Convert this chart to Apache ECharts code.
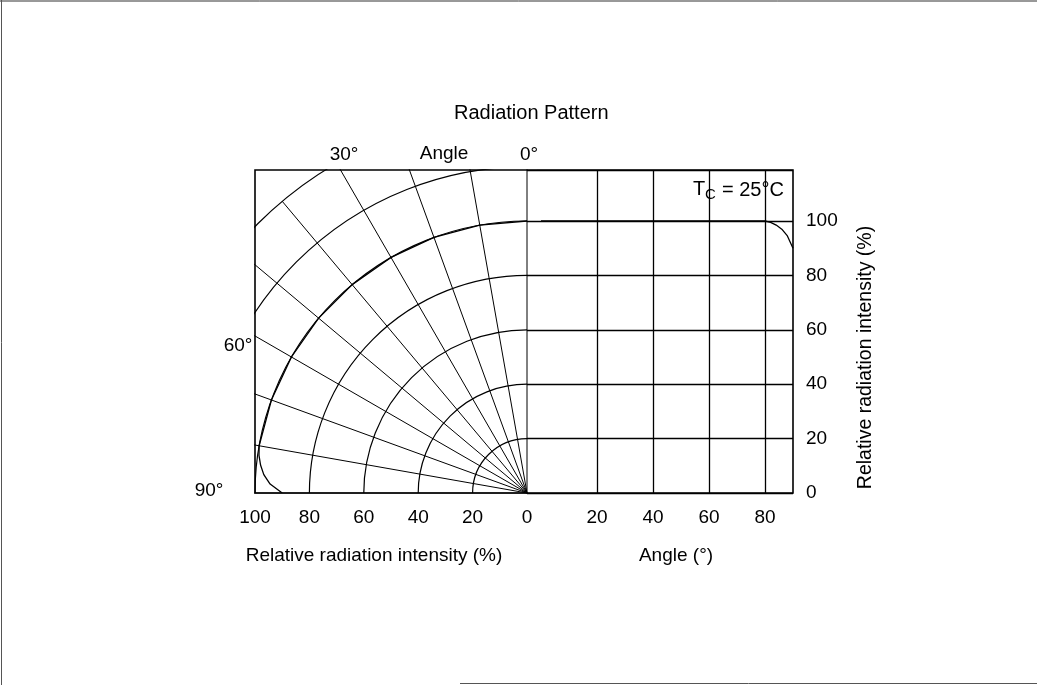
<!DOCTYPE html>
<html><head><meta charset="utf-8">
<script src="https://cdn.jsdelivr.net/npm/echarts@6/dist/echarts.min.js"></script>
<style>html,body{margin:0;padding:0;background:#fff}#c{width:1037px;height:685px}</style>
</head><body><div id="c"></div><script>
// ---- data ----
const angles = [0, 10, 20, 30, 40, 50, 60, 70, 80, 82, 84, 86, 88, 90];          // degrees
const intensity = [100, 100, 100, 100, 100, 100, 100, 100, 100, 99.5, 98.5, 97, 94.5, 90]; // %
const intensityTicks = [0, 20, 40, 60, 80, 100];
const angleTicks = [20, 40, 60, 80];
const polarAngleLabels = ['0°', '30°', '60°', '90°'];

// ---- layout ----
const FONT = "'Liberation Sans', Arial, Helvetica, sans-serif";
const OX = 527, OY = 493;           // shared origin
const PX = 2.72;                    // px per %
const TOP = 170, RIGHT = 793;
const LEFT = OX - 100 * PX;         // 255
const H = OY - TOP;                 // 323
const YMAX = H / PX;                // ~118.75
const RMAX = 140;

const chart = echarts.init(document.getElementById('c'), null, {renderer: 'canvas'});
const black = '#000';
const txt = (text, x, y, extra) => Object.assign({
  type: 'text', z: 100,
  style: Object.assign({text, x, y, fill: black, font: '19px ' + FONT, align: 'center', verticalAlign: 'middle'}, extra || {})
});

chart.setOption({
  backgroundColor: '#fff',
  animation: false,
  title: {
    text: 'Radiation Pattern', left: 449, top: 98, z: 100,
    textStyle: {fontFamily: FONT, fontSize: 20, fontWeight: 'normal', color: black}
  },
  polar: {center: [OX, OY], radius: RMAX * PX},
  angleAxis: {
    type: 'value', min: 0, max: 90, interval: 10,
    startAngle: 90, endAngle: 180, clockwise: false,
    axisLine: {show: false}, axisTick: {show: false}, axisLabel: {show: false},
    splitLine: {show: true, lineStyle: {color: black, width: 1}}
  },
  radiusAxis: {
    type: 'value', min: 0, max: RMAX, interval: 20,
    axisLine: {show: false}, axisTick: {show: false}, axisLabel: {show: false},
    splitLine: {show: true, lineStyle: {color: black, width: 1.2}}
  },
  grid: [
    {left: LEFT, top: TOP, width: OX - LEFT, height: H},
    {left: OX, top: TOP, width: RIGHT - OX, height: H}
  ],
  xAxis: [
    {
      gridIndex: 0, type: 'value', min: 0, max: 100, interval: 20, inverse: true,
      axisLine: {show: false}, axisTick: {show: false}, splitLine: {show: false},
      axisLabel: {fontFamily: FONT, fontSize: 19, color: black, margin: 15},
      name: 'Relative radiation intensity (%)', nameLocation: 'middle', nameGap: 53,
      nameTextStyle: {fontFamily: FONT, fontSize: 19, color: black, padding: [0, 34, 0, 0]}
    },
    {
      gridIndex: 1, type: 'value', min: -5, max: 90,
      axisLine: {show: false}, axisTick: {show: false}, splitLine: {show: false},
      axisLabel: {fontFamily: FONT, fontSize: 19, color: black, margin: 15, customValues: angleTicks},
      name: 'Angle (°)', nameLocation: 'middle', nameGap: 53,
      nameTextStyle: {fontFamily: FONT, fontSize: 19, color: black, padding: [0, 0, 0, 32]}
    }
  ],
  yAxis: [
    {gridIndex: 0, type: 'value', min: 0, max: YMAX, show: false},
    {
      gridIndex: 1, type: 'value', position: 'right', min: 0, max: YMAX, interval: 20,
      axisLine: {show: false}, axisTick: {show: false},
      splitLine: {show: true, lineStyle: {color: black, width: 1.3}},
      axisLabel: {fontFamily: FONT, fontSize: 19, color: black, margin: 13,
        formatter: v => (intensityTicks.indexOf(v) >= 0 ? String(v) : '')},
      name: 'Relative radiation intensity (%)', nameLocation: 'middle', nameRotate: 90, nameGap: 63,
      nameTextStyle: {fontFamily: FONT, fontSize: 19.5, color: black, padding: [0, 52, 0, 0]}
    }
  ],
  series: [
    {
      type: 'line', coordinateSystem: 'polar', showSymbol: false, silent: true,
      data: angles.map((a, i) => [intensity[i], a]),
      lineStyle: {color: black, width: 1.3}
    },
    {
      type: 'line', xAxisIndex: 1, yAxisIndex: 1, showSymbol: false, silent: true,
      data: angles.map((a, i) => [a, intensity[i]]),
      lineStyle: {color: black, width: 1.3},
      markLine: {
        silent: true, symbol: 'none', label: {show: false},
        lineStyle: {color: black, width: 1.3, type: 'solid'},
        data: angleTicks.map(v => ({xAxis: v}))
      }
    }
  ],
  graphic: [
    // hide the polar grid outside the plotting box
    {type: 'rect', z: 50, silent: true, shape: {x: 100, y: 100, width: LEFT - 100 - 0.8, height: OY - 100 + 2}, style: {fill: '#fff'}},
    {type: 'rect', z: 50, silent: true, shape: {x: 100, y: 100, width: OX - 100 + 10, height: TOP - 100 - 0.8}, style: {fill: '#fff'}},
    // box
    {type: 'rect', z: 70, silent: true, shape: {x: LEFT, y: TOP, width: RIGHT - LEFT, height: H},
      style: {fill: 'none', stroke: black, lineWidth: 1.6}},
    // page frame
    {type: 'line', z: 70, silent: true, shape: {x1: 0, y1: 1, x2: 1037, y2: 1}, style: {stroke: '#333', lineWidth: 1}},
    {type: 'line', z: 70, silent: true, shape: {x1: 1.5, y1: 0, x2: 1.5, y2: 685}, style: {stroke: '#555', lineWidth: 1}},
    {type: 'line', z: 70, silent: true, shape: {x1: 460, y1: 683.5, x2: 1037, y2: 683.5}, style: {stroke: '#555', lineWidth: 1}},
    // angle labels of the polar half
    txt(polarAngleLabels[1], 344, 155),
    txt('Angle', 444, 154),
    txt(polarAngleLabels[0], 529, 155),
    txt(polarAngleLabels[2], 238, 346),
    txt(polarAngleLabels[3], 209, 491),
    // T_C = 25°C
    txt('T', 693, 189, {align: 'left', font: '20px ' + FONT}),
    txt('C', 705, 195, {align: 'left', font: '15px ' + FONT}),
    txt('= 25°C', 722, 190, {align: 'left', font: '20px ' + FONT})
  ]
});
</script></body></html>
